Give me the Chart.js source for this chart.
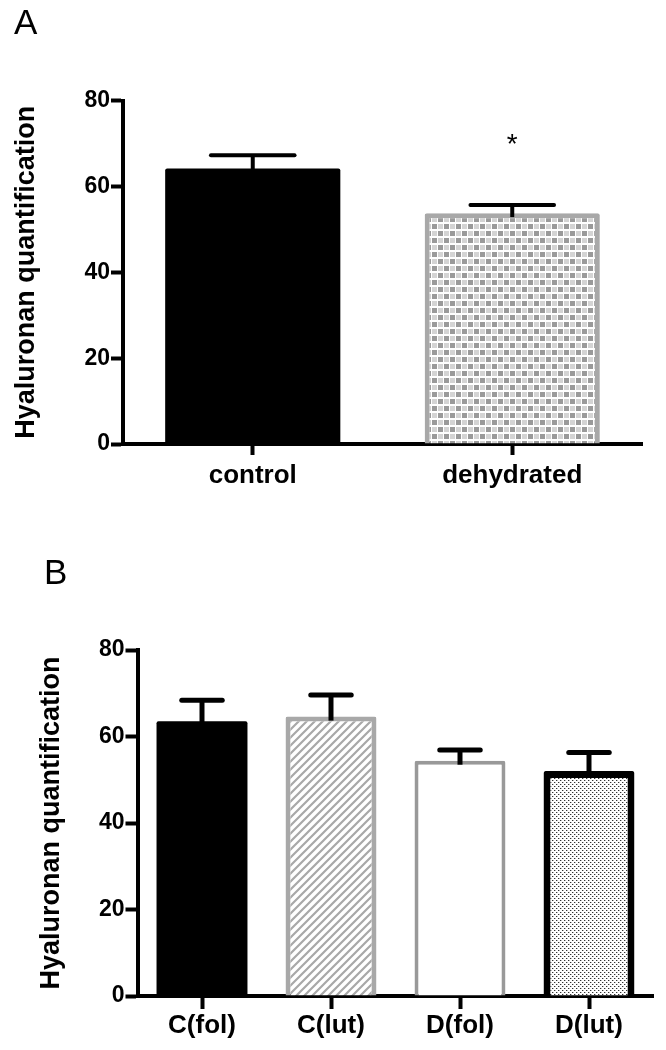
<!DOCTYPE html>
<html>
<head>
<meta charset="utf-8">
<script src="https://cdn.jsdelivr.net/npm/chart.js@4.4.1/dist/chart.umd.min.js"></script>
<style>
  body { margin: 0; background: #fff; width: 666px; height: 1050px; position: relative; overflow: hidden;
         font-family: "Liberation Sans", Arial, sans-serif; }
  .panel { position: absolute; left: 0; width: 666px; }
  .lbl { position: absolute; font-size: 35px; line-height: 1; color: #000; }
</style>
</head>
<body>
<div class="panel" style="top:0;height:500px"><canvas id="chartA" width="666" height="500"></canvas></div>
<div class="panel" style="top:500px;height:550px"><canvas id="chartB" width="666" height="550"></canvas></div>
<div class="lbl" style="left:14px;top:4px">A</div>
<div class="lbl" style="left:44px;top:554px">B</div>
<script>
Chart.defaults.font.family = '"Liberation Sans", Arial, sans-serif';
Chart.defaults.color = '#000';

// Panel A
const catsA = ['control', 'dehydrated'];
const meanA = [64.2, 53.8];
const errA = [67.3, 55.7];
const marksA = ['', '*'];

// Panel B
const catsB = ['C(fol)', 'C(lut)', 'D(fol)', 'D(lut)'];
const meanB = [63.5, 64.6, 54.4, 52.0];
const errB = [68.4, 69.6, 56.9, 56.3];

// y axis ticks (both panels)
const yTicks = [0, 20, 40, 60, 80];

// fill patterns
function tile(w, h, draw) {
  const c = document.createElement('canvas');
  c.width = w; c.height = h;
  const g = c.getContext('2d');
  g.fillStyle = '#fff';
  g.fillRect(0, 0, w, h);
  draw(g);
  return g.createPattern(c, 'repeat');
}
const checker = tile(12, 14, g => {
  g.fillStyle = '#9a9a9a';
  g.fillRect(0, 0, 5, 5);
  g.fillRect(6, 7, 5, 5);
  g.fillStyle = '#d4d4d4';
  g.fillRect(6, 0, 5, 5);
  g.fillRect(0, 7, 5, 5);
});
const hatch = tile(8, 8, g => {
  g.strokeStyle = '#a8a8a8';
  g.lineWidth = 2.2;
  g.beginPath();
  g.moveTo(-1, 9); g.lineTo(9, -1);
  g.moveTo(-2, 2); g.lineTo(2, -2);
  g.moveTo(6, 10); g.lineTo(10, 6);
  g.stroke();
});
const stipple = tile(4, 4, g => {
  g.fillStyle = '#333';
  g.fillRect(0, 0, 1, 1);
  g.fillRect(2, 2, 1, 1);
  g.fillStyle = '#bbb';
  g.fillRect(1, 0, 1, 1);
  g.fillRect(3, 2, 1, 1);
});

// error bars (upper only) + significance marks
const errorBars = {
  id: 'errorBars',
  afterDatasetsDraw(chart, args, opts) {
    const ctx = chart.ctx;
    const y = chart.scales.y;
    const lw = opts.lineWidth;
    chart.getDatasetMeta(0).data.forEach((bar, i) => {
      const top = y.getPixelForValue(opts.values[i]);
      const half = bar.width / 4;
      ctx.save();
      ctx.strokeStyle = '#000';
      ctx.lineWidth = lw;
      ctx.beginPath();
      ctx.moveTo(bar.x, bar.y + 4);
      ctx.lineTo(bar.x, top);
      ctx.stroke();
      ctx.lineCap = 'round';
      ctx.beginPath();
      ctx.moveTo(bar.x - half + lw / 2, top);
      ctx.lineTo(bar.x + half - lw / 2, top);
      ctx.stroke();
      if (opts.marks && opts.marks[i]) {
        ctx.fillStyle = '#000';
        ctx.font = '28px "Liberation Sans", Arial, sans-serif';
        ctx.textAlign = 'center';
        ctx.textBaseline = 'alphabetic';
        ctx.fillText(opts.marks[i], bar.x, top - 52);
      }
      ctx.restore();
    });
  }
};

function makeScales(o) {
  return {
    x: {
      z: 1,
      border: { display: true, color: '#000', width: 4 },
      grid: { display: true, drawOnChartArea: false, offset: false, tickColor: '#000', tickWidth: 4, tickLength: o.xTick },
      ticks: { font: { size: 26, weight: 'bold' }, padding: o.xPad, color: '#000' },
      afterFit(s) { s.height = o.xHeight; }
    },
    y: {
      z: 1,
      min: yTicks[0],
      max: yTicks[yTicks.length - 1],
      border: { display: true, color: '#000', width: 4 },
      grid: { drawOnChartArea: false, tickColor: '#000', tickWidth: 4, tickLength: 12 },
      ticks: { stepSize: yTicks[1] - yTicks[0], font: { size: 23, weight: 'bold' }, padding: 1, color: '#000' },
      title: { display: true, text: 'Hyaluronan quantification', color: '#000',
               font: { size: 27, weight: 'bold' }, padding: { top: o.titlePad, bottom: 0 } },
      afterFit(s) { s.width = o.yWidth; }
    }
  };
}

new Chart(document.getElementById('chartA'), {
  type: 'bar',
  data: {
    labels: catsA,
    datasets: [{
      data: meanA,
      backgroundColor: ['#000', checker],
      borderColor: ['#000', '#a8a8a8'],
      borderWidth: [0, 5],
      borderRadius: 2,
      barPercentage: 0.675,
      categoryPercentage: 1
    }]
  },
  options: {
    responsive: false,
    animation: false,
    layout: { padding: { top: 100.7, right: 24, left: 0, bottom: 0 } },
    plugins: {
      legend: { display: false },
      tooltip: { enabled: false },
      errorBars: { values: errA, marks: marksA, lineWidth: 4 }
    },
    scales: makeScales({ xTick: 11, xPad: 5, xHeight: 56, yWidth: 123, titlePad: 10 })
  },
  plugins: [errorBars]
});

new Chart(document.getElementById('chartB'), {
  type: 'bar',
  data: {
    labels: catsB,
    datasets: [{
      data: meanB,
      backgroundColor: ['#000', hatch, '#fff', stipple],
      borderColor: ['#000', '#a8a8a8', '#999', '#000'],
      borderWidth: [0, 5, 4, 7],
      borderRadius: 2,
      barPercentage: 0.705,
      categoryPercentage: 1
    }]
  },
  options: {
    responsive: false,
    animation: false,
    layout: { padding: { top: 150, right: 12.5, left: 0, bottom: 0 } },
    plugins: {
      legend: { display: false },
      tooltip: { enabled: false },
      errorBars: { values: errB, lineWidth: 5 }
    },
    scales: makeScales({ xTick: 13, xPad: 1, xHeight: 54, yWidth: 137.5, titlePad: 35 })
  },
  plugins: [errorBars]
});
</script>
</body>
</html>
